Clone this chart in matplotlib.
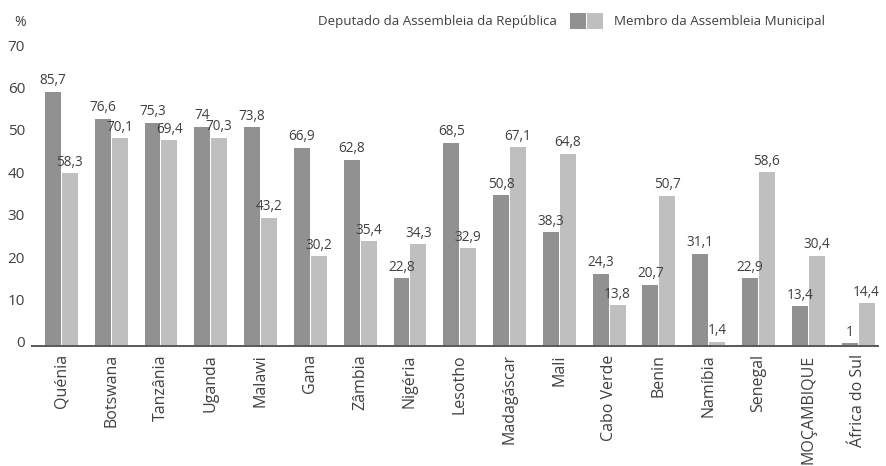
import matplotlib
matplotlib.use('Agg')
import matplotlib.pyplot as plt
import numpy as np
from matplotlib.patches import Rectangle

plt.rcParams['font.family'] = ['Open Sans', 'DejaVu Sans']

countries = ['Quénia', 'Botswana', 'Tanzânia', 'Uganda', 'Malawi', 'Gana',
             'Zâmbia', 'Nigéria', 'Lesotho', 'Madagáscar', 'Mali',
             'Cabo Verde', 'Benin', 'Namíbia', 'Senegal', 'MOÇAMBIQUE',
             'África do Sul']
deputado = [85.7, 76.6, 75.3, 74, 73.8, 66.9, 62.8, 22.8, 68.5, 50.8,
            38.3, 24.3, 20.7, 31.1, 22.9, 13.4, 1]
membro = [58.3, 70.1, 69.4, 70.3, 43.2, 30.2, 35.4, 34.3, 32.9, 67.1,
          64.8, 13.8, 50.7, 1.4, 58.6, 30.4, 14.4]
series_names = ['Deputado da Assembleia da República',
                'Membro da Assembleia Municipal']
axis_ticks = [0, 10, 20, 30, 40, 50, 60, 70]

DARK = '#919191'
LIGHT = '#bfbfbf'
TEXT = '#404040'

W, H = 886, 466
fig = plt.figure(figsize=(W / 100, H / 100), dpi=100)

# axes placed in pixel terms
left, right, base, top = 32, 878, 346, 40
ax = fig.add_axes([left / W, (H - base) / H, (right - left) / W, (base - top) / H])

x = np.arange(len(countries))
width = 0.32
off = 0.17
ax.bar(x - off, deputado, width, color=DARK, linewidth=0)
ax.bar(x + off, membro, width, color=LIGHT, linewidth=0)

px_per_unit = 2.965
ax.set_xlim(-0.59, 16.4)
ax.set_ylim(0, (base - top) / px_per_unit)


def fmt(v):
    return f'{v:g}'.replace('.', ',')


for xi, d, m in zip(x, deputado, membro):
    ax.annotate(fmt(d), (xi - off, d), xytext=(0, 2.5), textcoords='offset points',
                ha='center', va='bottom', fontsize=9.8, color=TEXT)
    ax.annotate(fmt(m), (xi + off, m), xytext=(0, 2.5), textcoords='offset points',
                ha='center', va='bottom', fontsize=9.8, color=TEXT)

# the printed scale does not match the bar heights in the source; mimic it
label_scale = 0.699
ax.set_yticks([t / label_scale + 1.35 for t in axis_ticks])
ax.set_yticklabels([str(t) for t in axis_ticks])
ax.tick_params(axis='y', length=0, pad=5, labelsize=11, labelcolor=TEXT)

ax.set_xticks(x)
ax.set_xticklabels(countries, rotation=90)
ax.tick_params(axis='x', length=0, pad=6, labelsize=11.5, labelcolor=TEXT)

for s in ['top', 'right', 'left']:
    ax.spines[s].set_visible(False)
ax.spines['bottom'].set_color('#595959')
ax.spines['bottom'].set_linewidth(1.4)

fig.text(20 / W, 1 - 22 / H, '%', ha='center', va='center', fontsize=10, color=TEXT)

# legend drawn by hand: label, two swatches, label
fig.text(557 / W, 1 - 21 / H, series_names[0], ha='right', va='center',
         fontsize=9.6, color=TEXT)
fig.text(614 / W, 1 - 21 / H, series_names[1], ha='left', va='center',
         fontsize=9.6, color=TEXT)
fig.patches.append(Rectangle((570 / W, 1 - 29 / H), 16 / W, 16 / H,
                             transform=fig.transFigure, color=DARK, lw=0))
fig.patches.append(Rectangle((587 / W, 1 - 29 / H), 16 / W, 16 / H,
                             transform=fig.transFigure, color=LIGHT, lw=0))

fig.savefig('out.png', dpi=100)
